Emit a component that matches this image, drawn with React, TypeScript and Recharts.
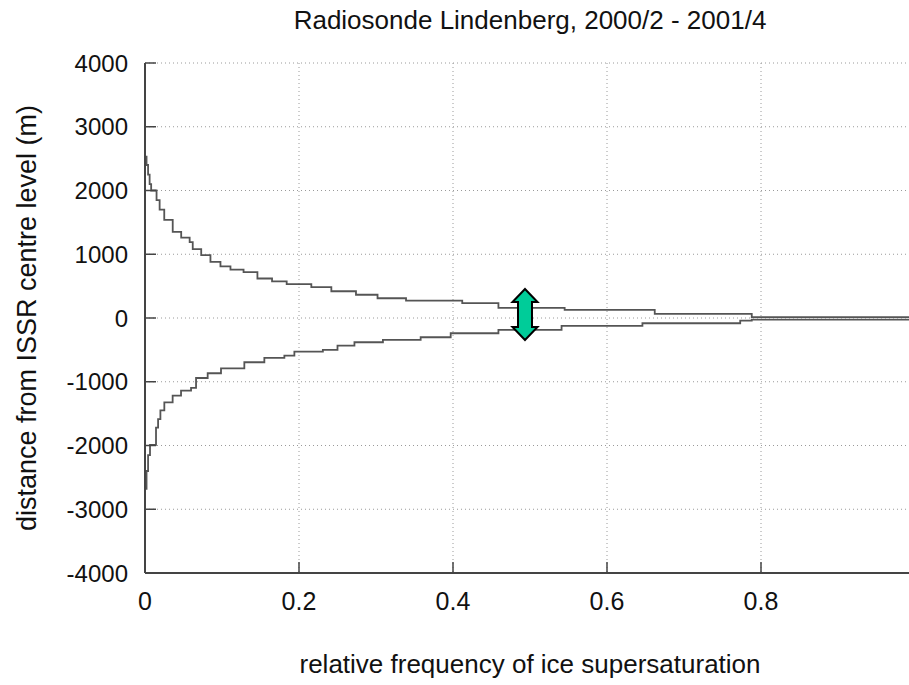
import React from 'react'
import { ComposedChart, Line, Scatter, XAxis, YAxis, CartesianGrid } from 'recharts'

const title = 'Radiosonde Lindenberg, 2000/2 - 2001/4'
const xLabel = 'relative frequency of ice supersaturation'
const yLabel = 'distance from ISSR centre level (m)'

const xTicks = [0, 0.2, 0.4, 0.6, 0.8]
const xTickLabels = ['0', '0.2', '0.4', '0.6', '0.8']
const yTicks = [-4000, -3000, -2000, -1000, 0, 1000, 2000, 3000, 4000]
const yTickLabels = ['-4000', '-3000', '-2000', '-1000', '0', '1000', '2000', '3000', '4000']

// upper branch (above the ISSR centre): frequency where each step starts, and its height (m)
const upperFreq = [
  0, 0.002, 0.004, 0.006, 0.008, 0.015, 0.019, 0.025, 0.036, 0.047, 0.058, 0.062, 0.073, 0.085,
  0.098, 0.111, 0.128, 0.146, 0.165, 0.184, 0.216, 0.242, 0.274, 0.302, 0.339, 0.412, 0.459,
  0.545, 0.662, 0.788, 1.0,
]
const upperDist = [
  2530, 2400, 2250, 2100, 2000, 1850, 1700, 1540, 1350, 1260, 1190, 1080, 985, 880,
  810, 760, 720, 620, 575, 530, 485, 420, 365, 310, 272, 233, 160,
  129, 66, 15, 15,
]

// lower branch (below the ISSR centre)
const lowerFreq = [
  0, 0.002, 0.004, 0.0065, 0.0143, 0.017, 0.02, 0.0251, 0.0359, 0.0468, 0.0598, 0.0663, 0.0814,
  0.0987, 0.129, 0.155, 0.181, 0.194, 0.231, 0.25, 0.272, 0.309, 0.358, 0.397, 0.459, 0.541,
  0.646, 0.773, 0.788, 1.0,
]
const lowerDist = [
  -2680, -2400, -2150, -1990, -1720, -1585, -1450, -1323, -1218, -1140, -1097, -941, -867,
  -789, -694, -626, -590, -527, -501, -432, -380, -343, -302, -239, -186, -123,
  -82, -40, -25, -25,
]

// green double arrow marking the layer thickness
const arrowAt = [{ f: 0.4935, d: 55 }]

const upperData = upperFreq.map((f, i) => ({ f, d: upperDist[i] }))
const lowerData = lowerFreq.map((f, i) => ({ f, d: lowerDist[i] }))

const FONT = '"Liberation Sans", Arial, Helvetica, sans-serif'
const INK = '#111'
const BORDER = '#444'
const TICK = 11

// eslint-disable-next-line @typescript-eslint/no-explicit-any
function BottomTick(props: any) {
  const { x, y, payload } = props
  const label = xTickLabels[xTicks.indexOf(payload.value)] ?? ''
  return (
    <g>
      <line x1={x} x2={x} y1={y} y2={y - TICK} stroke={BORDER} strokeWidth={1.5} />
      <text x={x} y={y + 37} textAnchor="middle" fontSize={25} fill={INK} fontFamily={FONT}>
        {label}
      </text>
    </g>
  )
}

// eslint-disable-next-line @typescript-eslint/no-explicit-any
function TopTick(props: any) {
  const { x, y } = props
  return <line x1={x} x2={x} y1={y} y2={y + TICK} stroke={BORDER} strokeWidth={1.5} />
}

// eslint-disable-next-line @typescript-eslint/no-explicit-any
function LeftTick(props: any) {
  const { x, y, payload } = props
  const label = yTickLabels[yTicks.indexOf(payload.value)] ?? ''
  return (
    <g>
      <line x1={x} x2={x + TICK} y1={y} y2={y} stroke={BORDER} strokeWidth={1.5} />
      <text x={x - 17} y={y + 8.5} textAnchor="end" fontSize={24} fill={INK} fontFamily={FONT}>
        {label}
      </text>
    </g>
  )
}

// eslint-disable-next-line @typescript-eslint/no-explicit-any
function RightTick(props: any) {
  const { x, y } = props
  return <line x1={x - TICK} x2={x} y1={y} y2={y} stroke={BORDER} strokeWidth={1.5} />
}

// eslint-disable-next-line @typescript-eslint/no-explicit-any
function DoubleArrow(props: any) {
  const { cx, cy } = props
  const h = 25.5
  const hw = 12.5
  const hl = 13
  const sw = 7
  const pts = [
    [cx, cy - h],
    [cx + hw, cy - h + hl],
    [cx + sw, cy - h + hl],
    [cx + sw, cy + h - hl],
    [cx + hw, cy + h - hl],
    [cx, cy + h],
    [cx - hw, cy + h - hl],
    [cx - sw, cy + h - hl],
    [cx - sw, cy - h + hl],
    [cx - hw, cy - h + hl],
  ]
    .map((p) => p.join(','))
    .join(' ')
  return <polygon points={pts} fill="#00cc99" stroke="#000" strokeWidth={2} strokeLinejoin="miter" />
}

export default function App() {
  return (
    <div
      style={{
        position: 'absolute',
        left: 0,
        top: 0,
        width: 909,
        height: 685,
        overflow: 'hidden',
        background: '#fff',
      }}
    >
      <div
        style={{
          position: 'absolute',
          left: 0,
          top: 7,
          width: 1060,
          textAlign: 'center',
          fontFamily: FONT,
          fontSize: 26,
          lineHeight: '26px',
          color: INK,
          whiteSpace: 'nowrap',
        }}
      >
        {title}
      </div>
      <ComposedChart width={930} height={685} margin={{ top: 63, right: 15, bottom: 0, left: 0 }}>
        <CartesianGrid stroke="#9a9a9a" strokeDasharray="1 3" />
        <XAxis
          type="number"
          dataKey="f"
          domain={[0, 1]}
          ticks={xTicks}
          interval={0}
          allowDataOverflow
          height={112}
          tickSize={0}
          tickMargin={0}
          tickLine={false}
          axisLine={{ stroke: BORDER, strokeWidth: 2 }}
          tick={<BottomTick />}
          label={{
            content: (p: any) => {
              const vb = p.viewBox
              return (
                <text
                  x={vb.x + vb.width / 2}
                  y={vb.y + vb.height - 12}
                  textAnchor="middle"
                  fontSize={26}
                  fill={INK}
                  fontFamily={FONT}
                >
                  {xLabel}
                </text>
              )
            },
          }}
        />
        <XAxis
          xAxisId="top"
          orientation="top"
          type="number"
          domain={[0, 1]}
          ticks={xTicks}
          interval={0}
          height={0}
          tickSize={0}
          tickMargin={0}
          tickLine={false}
          axisLine={{ stroke: BORDER, strokeWidth: 2 }}
          tick={<TopTick />}
        />
        <YAxis
          type="number"
          domain={[-4000, 4000]}
          ticks={yTicks}
          interval={0}
          allowDataOverflow
          width={145}
          tickSize={0}
          tickMargin={0}
          tickLine={false}
          axisLine={{ stroke: BORDER, strokeWidth: 2 }}
          tick={<LeftTick />}
          label={{
            content: (p: any) => {
              const vb = p.viewBox
              const lx = 36
              const ly = vb.y + vb.height / 2
              return (
                <text
                  x={lx}
                  y={ly}
                  transform={`rotate(-90, ${lx}, ${ly})`}
                  textAnchor="middle"
                  fontSize={27}
                  fill={INK}
                  fontFamily={FONT}
                >
                  {yLabel}
                </text>
              )
            },
          }}
        />
        <YAxis
          yAxisId="right"
          orientation="right"
          type="number"
          domain={[-4000, 4000]}
          ticks={yTicks}
          interval={0}
          width={0}
          tickSize={0}
          tickMargin={0}
          tickLine={false}
          axisLine={{ stroke: BORDER, strokeWidth: 2 }}
          tick={<RightTick />}
        />
        <Line
          data={upperData}
          dataKey="d"
          type="stepAfter"
          stroke="#555"
          strokeWidth={1.8}
          dot={false}
          isAnimationActive={false}
        />
        <Line
          data={lowerData}
          dataKey="d"
          type="stepAfter"
          stroke="#555"
          strokeWidth={1.8}
          dot={false}
          isAnimationActive={false}
        />
        <Scatter data={arrowAt} dataKey="d" shape={<DoubleArrow />} isAnimationActive={false} />
      </ComposedChart>
    </div>
  )
}
